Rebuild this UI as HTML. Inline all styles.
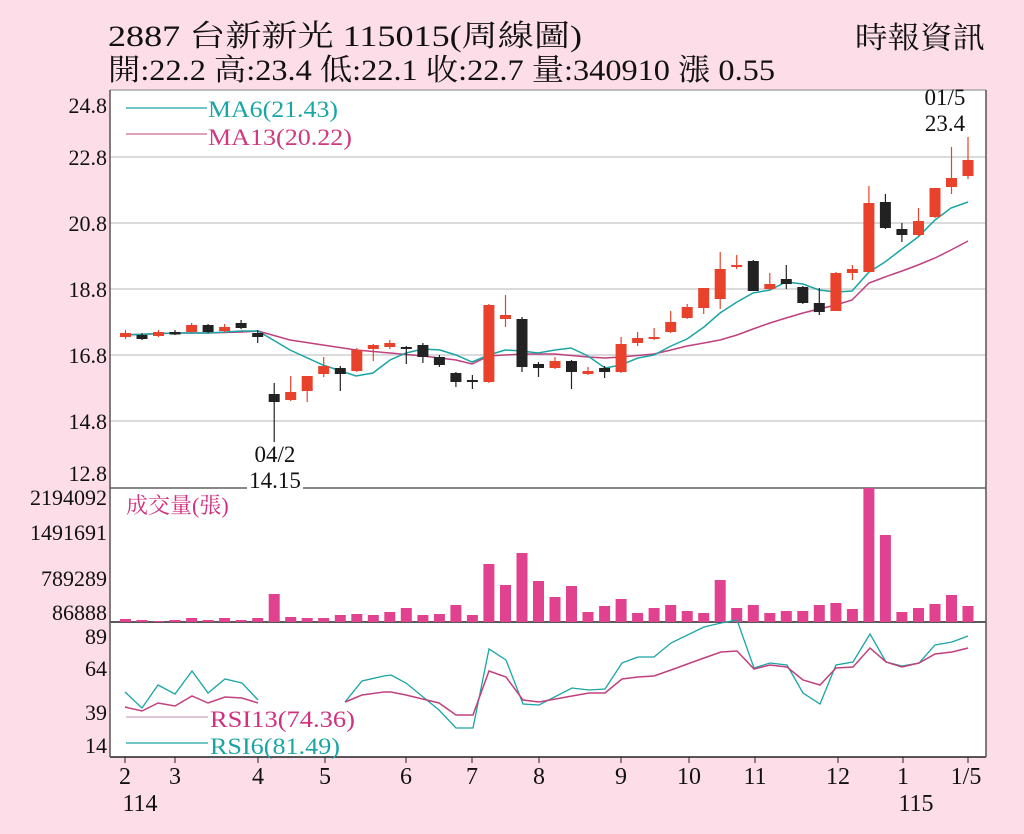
<!DOCTYPE html>
<html><head><meta charset="utf-8"><style>
html,body{margin:0;padding:0;background:#fcdde8;}
svg{display:block;}
text{font-family:"Liberation Serif","Noto Serif CJK SC",serif;}
</style></head><body>
<svg width="1024" height="834" viewBox="0 0 1024 834" xmlns="http://www.w3.org/2000/svg">
<rect width="1024" height="834" fill="#fcdde8"/>
<!-- header -->
<text x="108" y="46" font-size="30" fill="#111" textLength="474" lengthAdjust="spacingAndGlyphs">2887  台新新光 115015(周線圖)</text>
<text x="108" y="80" font-size="30" fill="#111" textLength="667" lengthAdjust="spacingAndGlyphs">開:22.2 高:23.4 低:22.1 收:22.7 量:340910 漲 0.55</text>
<text x="855" y="48" font-size="30" fill="#111" textLength="130" lengthAdjust="spacingAndGlyphs">時報資訊</text>
<!-- plot area -->
<rect x="110" y="90" width="876" height="667" fill="#fff"/>
<g stroke="#cfcfcf" stroke-width="1.5">
<line x1="110" y1="157" x2="986" y2="157"/><line x1="110" y1="223" x2="986" y2="223"/><line x1="110" y1="289" x2="986" y2="289"/><line x1="110" y1="355" x2="986" y2="355"/><line x1="110" y1="421" x2="986" y2="421"/>
</g>
<line x1="110" y1="90" x2="986" y2="90" stroke="#aaa" stroke-width="1.5"/>
<line x1="110" y1="488" x2="986" y2="488" stroke="#888" stroke-width="2"/>
<line x1="110" y1="622" x2="986" y2="622" stroke="#222" stroke-width="1.5"/>
<line x1="110" y1="757" x2="986" y2="757" stroke="#222" stroke-width="1.5"/>
<line x1="110" y1="90" x2="110" y2="757" stroke="#555" stroke-width="1.5"/>
<line x1="986" y1="90" x2="986" y2="757" stroke="#555" stroke-width="1.5"/>
<!-- y labels -->
<g font-size="22" fill="#111" text-anchor="end">
<text x="107" y="113">24.8</text><text x="107" y="165">22.8</text><text x="107" y="231">20.8</text><text x="107" y="297">18.8</text><text x="107" y="363">16.8</text><text x="107" y="429">14.8</text><text x="107" y="481">12.8</text>
<text x="107" y="505">2194092</text><text x="107" y="540">1491691</text><text x="107" y="586">789289</text><text x="107" y="620">86888</text>
<text x="107" y="644">89</text><text x="107" y="676">64</text><text x="107" y="720">39</text><text x="107" y="753">14</text>
</g>
<!-- x ticks -->
<g stroke="#222" stroke-width="1">
<line x1="125" y1="757" x2="125" y2="763"/><line x1="175" y1="757" x2="175" y2="763"/><line x1="258" y1="757" x2="258" y2="763"/><line x1="325" y1="757" x2="325" y2="763"/><line x1="406" y1="757" x2="406" y2="763"/><line x1="472" y1="757" x2="472" y2="763"/><line x1="539" y1="757" x2="539" y2="763"/><line x1="621" y1="757" x2="621" y2="763"/><line x1="689" y1="757" x2="689" y2="763"/><line x1="755" y1="757" x2="755" y2="763"/><line x1="838" y1="757" x2="838" y2="763"/><line x1="903" y1="757" x2="903" y2="763"/><line x1="968" y1="757" x2="968" y2="763"/>
</g>
<g font-size="24" fill="#111" text-anchor="middle">
<text x="125" y="784">2</text><text x="175" y="784">3</text><text x="258" y="784">4</text><text x="325" y="784">5</text><text x="406" y="784">6</text><text x="472" y="784">7</text><text x="539" y="784">8</text><text x="621" y="784">9</text><text x="689" y="784">10</text><text x="755" y="784">11</text><text x="838" y="784">12</text><text x="903" y="784">1</text><text x="966" y="784">1/5</text>
<text x="140" y="811">114</text><text x="916" y="811">115</text>
</g>
<!-- legends -->
<line x1="126" y1="108" x2="207" y2="108" stroke="#1aa5a5" stroke-width="1.2"/>
<text x="208" y="117" font-size="23" fill="#1aa5a5" textLength="130" lengthAdjust="spacingAndGlyphs">MA6(21.43)</text>
<line x1="126" y1="134" x2="207" y2="134" stroke="#c0407f" stroke-width="1"/>
<text x="208" y="145" font-size="23" fill="#d0387f" textLength="144" lengthAdjust="spacingAndGlyphs">MA13(20.22)</text>
<text x="126" y="513" font-size="22" fill="#d0307f">成交量(張)</text>
<line x1="126" y1="717" x2="208" y2="717" stroke="#d8a0c0" stroke-width="1.2"/>
<text x="210" y="727" font-size="23" fill="#d0307f" textLength="145" lengthAdjust="spacingAndGlyphs">RSI13(74.36)</text>
<line x1="126" y1="743" x2="208" y2="743" stroke="#1aa5a5" stroke-width="1.2"/>
<text x="210" y="754" font-size="23" fill="#1aa5a5" textLength="130" lengthAdjust="spacingAndGlyphs">RSI6(81.49)</text>
<!-- annotations -->
<rect x="247" y="468" width="56" height="22" fill="#fff"/>
<g font-size="23" fill="#111" text-anchor="middle">
<text x="275" y="462">04/2</text><text x="275" y="488">14.15</text>
<text x="945" y="105">01/5</text><text x="945" y="131">23.4</text>
</g>
<!-- MAs -->
<polyline fill="none" stroke="#c0407f" stroke-width="1.5" points="125,335 175,333 208,333 242,332 258,331 290,340 323,345 356,350 390,353 423,356 456,360 472,364 489,356 522,354 555,354 588,357 605,358 621,357 654,354 671,350 687,346 704,343 720,340 737,335 753,329 770,323 786,318 803,313 819,309 836,305 852,300 869,283 885,277 902,271 918,265 935,258 951,250 968,241"/>
<polyline fill="none" stroke="#1aa5a5" stroke-width="1.5" points="125,335 175,333 208,333 242,331 258,331 290,350 323,365 356,376 373,373 390,360 406,353 423,349 440,350 456,355 472,362 489,355 505,350 522,351 538,353 555,350 571,348 588,356 605,368 621,365 638,358 654,355 671,346 687,339 704,327 720,313 737,302 753,293 770,290 786,282 803,284 819,290 836,292 852,291 869,272 885,262 902,249 918,237 935,220 951,208 968,202"/>
<!-- candles -->
<g stroke-width="1.2">
<line x1="125.5" y1="330" x2="125.5" y2="339" stroke="#e8412c"/><rect x="120" y="333" width="11" height="4" fill="#e8412c"/>
<line x1="142" y1="333" x2="142" y2="340" stroke="#222"/><rect x="136.5" y="335" width="11" height="4" fill="#222"/>
<line x1="158.5" y1="330" x2="158.5" y2="337" stroke="#e8412c"/><rect x="153" y="332" width="11" height="4" fill="#e8412c"/>
<line x1="175" y1="330" x2="175" y2="335" stroke="#222"/><rect x="169.5" y="332" width="11" height="2.5" fill="#222"/>
<line x1="191.6" y1="323" x2="191.6" y2="333" stroke="#e8412c"/><rect x="186.1" y="325" width="11" height="7" fill="#e8412c"/>
<line x1="208.1" y1="324" x2="208.1" y2="333" stroke="#222"/><rect x="202.6" y="325" width="11" height="7" fill="#222"/>
<line x1="224.6" y1="324" x2="224.6" y2="332" stroke="#e8412c"/><rect x="219.1" y="327" width="11" height="4" fill="#e8412c"/>
<line x1="241.1" y1="320" x2="241.1" y2="329" stroke="#222"/><rect x="235.6" y="323" width="11" height="5" fill="#222"/>
<line x1="257.7" y1="330" x2="257.7" y2="343" stroke="#222"/><rect x="252.2" y="333" width="11" height="4" fill="#222"/>
<line x1="274.2" y1="383" x2="274.2" y2="442" stroke="#222"/><rect x="268.7" y="394" width="11" height="8" fill="#222"/>
<line x1="290.7" y1="376" x2="290.7" y2="401" stroke="#e8412c"/><rect x="285.2" y="392" width="11" height="8" fill="#e8412c"/>
<line x1="307.2" y1="376" x2="307.2" y2="402" stroke="#e8412c"/><rect x="301.7" y="376" width="11" height="15" fill="#e8412c"/>
<line x1="323.7" y1="357" x2="323.7" y2="377" stroke="#e8412c"/><rect x="318.2" y="366" width="11" height="8" fill="#e8412c"/>
<line x1="340.3" y1="366" x2="340.3" y2="391" stroke="#222"/><rect x="334.8" y="368" width="11" height="6" fill="#222"/>
<line x1="356.8" y1="348" x2="356.8" y2="372" stroke="#e8412c"/><rect x="351.3" y="350" width="11" height="21" fill="#e8412c"/>
<line x1="373.3" y1="344" x2="373.3" y2="361" stroke="#e8412c"/><rect x="367.8" y="345" width="11" height="4" fill="#e8412c"/>
<line x1="389.8" y1="340" x2="389.8" y2="349" stroke="#e8412c"/><rect x="384.3" y="343" width="11" height="4" fill="#e8412c"/>
<line x1="406.3" y1="346" x2="406.3" y2="364" stroke="#222"/><rect x="400.8" y="347" width="11" height="2" fill="#222"/>
<line x1="422.9" y1="343" x2="422.9" y2="363" stroke="#222"/><rect x="417.4" y="345" width="11" height="12" fill="#222"/>
<line x1="439.4" y1="355" x2="439.4" y2="367" stroke="#222"/><rect x="433.9" y="357" width="11" height="8" fill="#222"/>
<line x1="455.9" y1="372" x2="455.9" y2="387" stroke="#222"/><rect x="450.4" y="373" width="11" height="9" fill="#222"/>
<line x1="472.4" y1="375" x2="472.4" y2="389" stroke="#222"/><rect x="466.9" y="380" width="11" height="2" fill="#222"/>
<line x1="488.9" y1="304" x2="488.9" y2="383" stroke="#e8412c"/><rect x="483.4" y="305" width="11" height="77" fill="#e8412c"/>
<line x1="505.5" y1="295" x2="505.5" y2="327" stroke="#e8412c"/><rect x="500" y="315" width="11" height="4" fill="#e8412c"/>
<line x1="522" y1="317" x2="522" y2="372" stroke="#222"/><rect x="516.5" y="319" width="11" height="48" fill="#222"/>
<line x1="538.5" y1="362" x2="538.5" y2="377" stroke="#222"/><rect x="533" y="364" width="11" height="4" fill="#222"/>
<line x1="555" y1="357" x2="555" y2="369" stroke="#e8412c"/><rect x="549.5" y="361" width="11" height="7" fill="#e8412c"/>
<line x1="571.5" y1="360" x2="571.5" y2="389" stroke="#222"/><rect x="566" y="361" width="11" height="11" fill="#222"/>
<line x1="588" y1="367" x2="588" y2="375" stroke="#e8412c"/><rect x="582.5" y="371" width="11" height="3" fill="#e8412c"/>
<line x1="604.6" y1="366" x2="604.6" y2="378" stroke="#222"/><rect x="599.1" y="368" width="11" height="4" fill="#222"/>
<line x1="621.1" y1="337" x2="621.1" y2="373" stroke="#e8412c"/><rect x="615.6" y="344" width="11" height="28" fill="#e8412c"/>
<line x1="637.6" y1="332" x2="637.6" y2="346" stroke="#e8412c"/><rect x="632.1" y="338" width="11" height="5" fill="#e8412c"/>
<line x1="654.1" y1="328" x2="654.1" y2="340" stroke="#e8412c"/><rect x="648.6" y="337" width="11" height="2" fill="#e8412c"/>
<line x1="670.7" y1="311" x2="670.7" y2="333" stroke="#e8412c"/><rect x="665.2" y="322" width="11" height="10" fill="#e8412c"/>
<line x1="687.2" y1="304" x2="687.2" y2="319" stroke="#e8412c"/><rect x="681.7" y="307" width="11" height="11" fill="#e8412c"/>
<line x1="703.7" y1="288" x2="703.7" y2="314" stroke="#e8412c"/><rect x="698.2" y="288" width="11" height="20" fill="#e8412c"/>
<line x1="720.2" y1="252" x2="720.2" y2="309" stroke="#e8412c"/><rect x="714.7" y="269" width="11" height="30" fill="#e8412c"/>
<line x1="736.7" y1="255" x2="736.7" y2="269" stroke="#e8412c"/><rect x="731.2" y="265" width="11" height="2" fill="#e8412c"/>
<line x1="753.3" y1="260" x2="753.3" y2="291" stroke="#222"/><rect x="747.8" y="261" width="11" height="30" fill="#222"/>
<line x1="769.8" y1="273" x2="769.8" y2="290" stroke="#e8412c"/><rect x="764.3" y="284" width="11" height="5" fill="#e8412c"/>
<line x1="786.3" y1="265" x2="786.3" y2="289" stroke="#222"/><rect x="780.8" y="279" width="11" height="5" fill="#222"/>
<line x1="802.8" y1="286" x2="802.8" y2="304" stroke="#222"/><rect x="797.3" y="287" width="11" height="16" fill="#222"/>
<line x1="819.3" y1="288" x2="819.3" y2="315" stroke="#222"/><rect x="813.8" y="303" width="11" height="9" fill="#222"/>
<line x1="835.9" y1="272" x2="835.9" y2="311" stroke="#e8412c"/><rect x="830.4" y="273" width="11" height="38" fill="#e8412c"/>
<line x1="852.4" y1="265" x2="852.4" y2="280" stroke="#e8412c"/><rect x="846.9" y="269" width="11" height="4" fill="#e8412c"/>
<line x1="868.9" y1="186" x2="868.9" y2="272" stroke="#e8412c"/><rect x="863.4" y="203" width="11" height="69" fill="#e8412c"/>
<line x1="885.4" y1="194" x2="885.4" y2="229" stroke="#222"/><rect x="879.9" y="202" width="11" height="26" fill="#222"/>
<line x1="901.9" y1="223" x2="901.9" y2="242" stroke="#222"/><rect x="896.4" y="229" width="11" height="6" fill="#222"/>
<line x1="918.5" y1="208" x2="918.5" y2="236" stroke="#e8412c"/><rect x="913" y="221" width="11" height="14" fill="#e8412c"/>
<line x1="935" y1="188" x2="935" y2="218" stroke="#e8412c"/><rect x="929.5" y="188" width="11" height="29" fill="#e8412c"/>
<line x1="951.5" y1="147" x2="951.5" y2="194" stroke="#e8412c"/><rect x="946" y="178" width="11" height="9" fill="#e8412c"/>
<line x1="968" y1="137" x2="968" y2="179" stroke="#e8412c"/><rect x="962.5" y="160" width="11" height="16" fill="#e8412c"/>
</g>
<!-- volume -->
<g fill="#e0428f">
<rect x="120" y="619" width="11" height="3"/><rect x="136.5" y="620" width="11" height="2"/><rect x="153" y="621" width="11" height="1"/><rect x="169.5" y="620" width="11" height="2"/><rect x="186.1" y="618" width="11" height="4"/><rect x="202.6" y="620" width="11" height="2"/><rect x="219.1" y="618" width="11" height="4"/><rect x="235.6" y="620" width="11" height="2"/><rect x="252.2" y="618" width="11" height="4"/><rect x="268.7" y="594" width="11" height="28"/>
<rect x="285.2" y="617" width="11" height="5"/><rect x="301.7" y="618" width="11" height="4"/><rect x="318.2" y="618" width="11" height="4"/><rect x="334.8" y="615" width="11" height="7"/><rect x="351.3" y="614" width="11" height="8"/><rect x="367.8" y="615" width="11" height="7"/><rect x="384.3" y="612" width="11" height="10"/><rect x="400.8" y="608" width="11" height="14"/><rect x="417.4" y="615" width="11" height="7"/><rect x="433.9" y="614" width="11" height="8"/>
<rect x="450.4" y="605" width="11" height="17"/><rect x="466.9" y="615" width="11" height="7"/><rect x="483.4" y="564" width="11" height="58"/><rect x="500" y="585" width="11" height="37"/><rect x="516.5" y="553" width="11" height="69"/><rect x="533" y="581" width="11" height="41"/><rect x="549.5" y="597" width="11" height="25"/><rect x="566" y="586" width="11" height="36"/><rect x="582.5" y="612" width="11" height="10"/><rect x="599.1" y="606" width="11" height="16"/>
<rect x="615.6" y="599" width="11" height="23"/><rect x="632.1" y="613" width="11" height="9"/><rect x="648.6" y="608" width="11" height="14"/><rect x="665.2" y="605" width="11" height="17"/><rect x="681.7" y="611" width="11" height="11"/><rect x="698.2" y="613" width="11" height="9"/><rect x="714.7" y="580" width="11" height="42"/><rect x="731.2" y="608" width="11" height="14"/><rect x="747.8" y="605" width="11" height="17"/><rect x="764.3" y="613" width="11" height="9"/>
<rect x="780.8" y="611" width="11" height="11"/><rect x="797.3" y="611" width="11" height="11"/><rect x="813.8" y="605" width="11" height="17"/><rect x="830.4" y="603" width="11" height="19"/><rect x="846.9" y="609" width="11" height="13"/><rect x="863.4" y="488" width="11" height="134"/><rect x="879.9" y="535" width="11" height="87"/><rect x="896.4" y="612" width="11" height="10"/><rect x="913" y="608" width="11" height="14"/><rect x="929.5" y="604" width="11" height="18"/>
<rect x="946" y="595" width="11" height="27"/><rect x="962.5" y="606" width="11" height="16"/>
</g>
<!-- RSI -->
<polyline fill="none" stroke="#1aa5a5" stroke-width="1.3" points="125,692 142,708 158,685 175,694 192,671 208,693 225,679 242,683 258,700"/>
<polyline fill="none" stroke="#1aa5a5" stroke-width="1.3" points="345,702 362,681 384,676 391,675 406,683 439,710 456,728 473,728 489,649 506,660 523,704 539,705 572,688 589,690 605,689 622,663 638,657 654,657 671,643 704,627 721,623 737,620 754,668 770,663 787,665 803,693 820,704 836,665 853,662 870,634 886,662 902,666 919,663 935,645 952,642 968,636"/>
<polyline fill="none" stroke="#c0407f" stroke-width="1.5" points="125,707 142,711 158,703 175,706 192,696 208,703 225,697 242,698 258,703"/>
<polyline fill="none" stroke="#c0407f" stroke-width="1.5" points="345,702 362,695 384,692 391,692 406,695 439,703 456,715 473,715 489,671 506,677 523,700 539,702 572,696 589,693 605,693 622,679 638,677 654,676 671,670 704,658 721,652 737,651 754,669 770,665 787,667 803,680 820,685 836,668 853,667 870,648 886,662 902,667 919,663 935,654 952,652 968,648"/>
</svg>
</body></html>
